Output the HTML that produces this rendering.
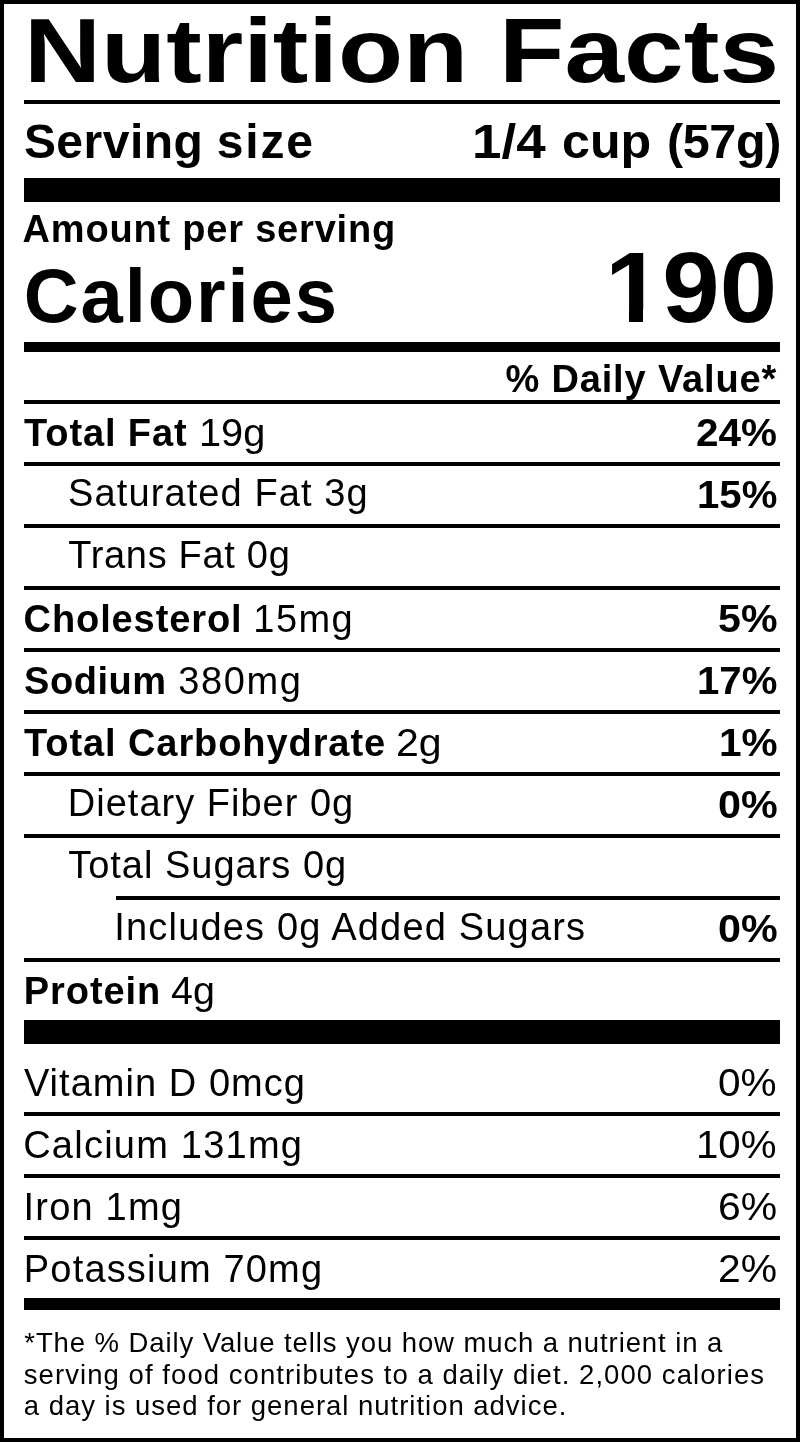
<!DOCTYPE html>
<html lang="en">
<head>
<meta charset="utf-8">
<title>Nutrition Facts</title>
<style>
html,body{margin:0;padding:0;background:#fff;}
body{width:800px;height:1442px;position:relative;overflow:hidden;font-family:"Liberation Sans",Arial,Helvetica,sans-serif;color:#000;}
.frame{position:absolute;left:0;top:0;width:792px;height:1434px;border:4px solid #000;}
.r{position:absolute;background:#000;}
.t{position:absolute;white-space:pre;line-height:1;margin:0;padding:0;font-weight:normal;transform-origin:0 0;}
.b{font-weight:bold;}
.grp{margin:0;}
.w{position:absolute;background:#fff;}
</style>
</head>
<body>
<div class="frame"></div>

<!-- horizontal rules -->
<div class="r" style="left:24px;top:100px;width:756px;height:4px"></div>
<div class="r" style="left:24px;top:178px;width:756px;height:24px"></div>
<div class="r" style="left:24px;top:342px;width:756px;height:10px"></div>
<div class="r" style="left:24px;top:400px;width:756px;height:4px"></div>
<div class="r" style="left:24px;top:462px;width:756px;height:4px"></div>
<div class="r" style="left:24px;top:524px;width:756px;height:4px"></div>
<div class="r" style="left:24px;top:586px;width:756px;height:4px"></div>
<div class="r" style="left:24px;top:648px;width:756px;height:4px"></div>
<div class="r" style="left:24px;top:710px;width:756px;height:4px"></div>
<div class="r" style="left:24px;top:772px;width:756px;height:4px"></div>
<div class="r" style="left:24px;top:834px;width:756px;height:4px"></div>
<div class="r" style="left:116px;top:896px;width:664px;height:4px"></div>
<div class="r" style="left:24px;top:958px;width:756px;height:4px"></div>
<div class="r" style="left:24px;top:1020px;width:756px;height:24px"></div>
<div class="r" style="left:24px;top:1112px;width:756px;height:4px"></div>
<div class="r" style="left:24px;top:1174px;width:756px;height:4px"></div>
<div class="r" style="left:24px;top:1236px;width:756px;height:4px"></div>
<div class="r" style="left:24px;top:1298px;width:756px;height:12px"></div>

<!-- header -->
<h1 class="grp"><span class="t b" style="left:23.84px;top:5px;font-size:91px;transform:scaleX(1.1717)">Nutrition</span> <span class="t b" style="left:499.05px;top:5px;font-size:91px;transform:scaleX(1.1782)">Facts</span></h1>
<div class="grp"><span class="t b" style="left:23.89px;top:117.5px;font-size:48px;letter-spacing:0.48px">Serving</span> <span class="t b" style="left:216.85px;top:117.5px;font-size:48px;letter-spacing:1.78px">size</span></div>
<div class="grp"><span class="t b" style="left:471.64px;top:116.5px;font-size:48.5px;transform:scaleX(1.0913)">1/4</span> <span class="t b" style="left:561.75px;top:116.5px;font-size:48.5px;transform:scaleX(1.0341)">cup</span> <span class="t b" style="left:667.05px;top:116.5px;font-size:48.5px;letter-spacing:-0.4px">(57g)</span></div>
<div class="t b" style="left:22.62px;top:209.75px;font-size:38px;letter-spacing:0.8px">Amount per serving</div>
<div class="t b" style="left:23.83px;top:257.7px;font-size:76px;letter-spacing:1.89px">Calories</div>
<div class="t b" style="left:604.75px;top:237px;font-size:100px;transform:scaleX(1.0309)">190</div>
<div class="w" style="left:608px;top:309px;width:20.9px;height:14px"></div>
<div class="w" style="left:643.2px;top:309px;width:18px;height:14px"></div>
<div class="t b" style="left:505.4px;top:360px;font-size:38px;letter-spacing:0.85px">% Daily Value*</div>

<!-- nutrients -->
<div class="grp"><b class="t b" style="left:24.06px;top:413.6px;font-size:38px;letter-spacing:0.88px">Total Fat</b> <span class="t" style="left:199.38px;top:413.6px;font-size:38px;transform:scaleX(1.045)">19g</span></div>
<div class="t b" style="left:696.28px;top:413.2px;font-size:39.5px;transform:scaleX(1.0246)">24%</div>
<div class="t" style="left:68.09px;top:474.2px;font-size:38px;letter-spacing:1.1px">Saturated Fat 3g</div>
<div class="t b" style="left:696.97px;top:475.2px;font-size:39.5px;transform:scaleX(1.0158)">15%</div>
<div class="t" style="left:68.14px;top:536.2px;font-size:38px;letter-spacing:0.7px">Trans Fat 0g</div>
<div class="grp"><b class="t b" style="left:23.61px;top:599.8px;font-size:38px;letter-spacing:0.89px">Cholesterol</b> <span class="t" style="left:253.36px;top:599.8px;font-size:38px;letter-spacing:1.4px">15mg</span></div>
<div class="t b" style="left:717.84px;top:599.2px;font-size:39.5px;transform:scaleX(1.0422)">5%</div>
<div class="grp"><b class="t b" style="left:24.08px;top:661.8px;font-size:38px;letter-spacing:0.52px">Sodium</b> <span class="t" style="left:178.26px;top:661.8px;font-size:38px;letter-spacing:1.58px">380mg</span></div>
<div class="t b" style="left:696.97px;top:661.2px;font-size:39.5px;transform:scaleX(1.0158)">17%</div>
<div class="grp"><b class="t b" style="left:24.06px;top:723.6px;font-size:38px;letter-spacing:0.91px">Total Carbohydrate</b> <span class="t" style="left:395.93px;top:723.7px;font-size:38px;transform:scaleX(1.0797)">2g</span></div>
<div class="t b" style="left:718.69px;top:723.2px;font-size:39.5px;transform:scaleX(1.027)">1%</div>
<div class="t" style="left:67.85px;top:783.8px;font-size:38px;letter-spacing:1.0px">Dietary Fiber 0g</div>
<div class="t b" style="left:717.65px;top:785.2px;font-size:39.5px;transform:scaleX(1.0456)">0%</div>
<div class="t" style="left:68.14px;top:846.2px;font-size:38px;letter-spacing:1.0px">Total Sugars 0g</div>
<div class="t" style="left:114.29px;top:908px;font-size:38px;letter-spacing:1.18px">Includes 0g Added Sugars</div>
<div class="t b" style="left:717.65px;top:909.2px;font-size:39.5px;transform:scaleX(1.0456)">0%</div>
<div class="grp"><b class="t b" style="left:23.7px;top:971.6px;font-size:38px;letter-spacing:0.95px">Protein</b> <span class="t" style="left:171.09px;top:971.6px;font-size:38px;transform:scaleX(1.0384)">4g</span></div>

<!-- vitamins and minerals -->
<div class="t" style="left:23.92px;top:1064px;font-size:38px;letter-spacing:1.04px">Vitamin D 0mcg</div>
<div class="t" style="left:718.4px;top:1063.3px;font-size:39.5px;transform:scaleX(1.0258)">0%</div>
<div class="t" style="left:23.2px;top:1126px;font-size:38px;letter-spacing:1.23px">Calcium 131mg</div>
<div class="t" style="left:696.42px;top:1125.3px;font-size:39.5px;transform:scaleX(1.018)">10%</div>
<div class="t" style="left:23.49px;top:1188.3px;font-size:38px;letter-spacing:1.22px">Iron 1mg</div>
<div class="t" style="left:717.89px;top:1187.3px;font-size:39.5px;transform:scaleX(1.0347)">6%</div>
<div class="t" style="left:23.85px;top:1250px;font-size:38px;letter-spacing:1.17px">Potassium 70mg</div>
<div class="t" style="left:717.94px;top:1249.3px;font-size:39.5px;transform:scaleX(1.034)">2%</div>

<!-- footnote -->
<div class="t" style="left:24.28px;top:1329px;font-size:27.5px;letter-spacing:0.91px">*The % Daily Value tells you how much a nutrient in a</div>
<div class="t" style="left:23.82px;top:1360.5px;font-size:27.5px;letter-spacing:1.06px">serving of food contributes to a daily diet. 2,000 calories</div>
<div class="t" style="left:23.75px;top:1392px;font-size:27.5px;letter-spacing:0.98px">a day is used for general nutrition advice.</div>
</body>
</html>
